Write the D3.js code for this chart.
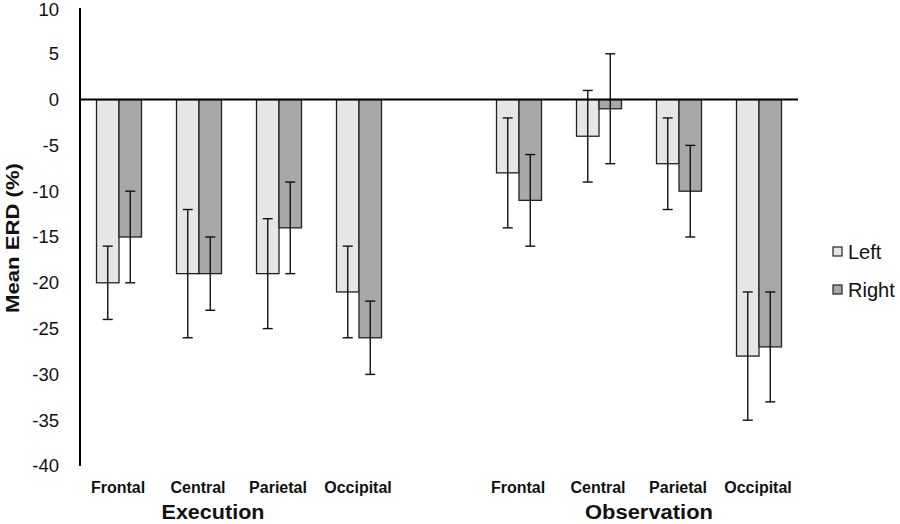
<!DOCTYPE html>
<html>
<head>
<meta charset="utf-8">
<script src="https://cdn.jsdelivr.net/npm/d3@7"></script>
<style>
  body { margin: 0; background: #fff; }
  svg { display: block; font-family: "Liberation Sans", Arial, sans-serif; }
</style>
</head>
<body>
<svg id="chart" width="900" height="524"></svg>
<script>
// ---- data ----
const regions = ["Frontal", "Central", "Parietal", "Occipital"];
const groups = ["Execution", "Observation"];
const series = ["Left", "Right"];
const execLeft = [-20, -19, -19, -21];
const execRight = [-15, -19, -14, -26];
const obsLeft = [-8, -4, -7, -28];
const obsRight = [-11, -1, -10, -27];
const execLeftErr = [4, 7, 6, 5];
const execRightErr = [5, 4, 5, 4];
const obsLeftErr = [6, 5, 5, 7];
const obsRightErr = [5, 6, 5, 6];
const yTicks = [10, 5, 0, -5, -10, -15, -20, -25, -30, -35, -40];

// ---- build rows ----
const slots = [];
const rows = [];
groups.forEach((g, gi) => {
  const L = gi === 0 ? execLeft : obsLeft;
  const R = gi === 0 ? execRight : obsRight;
  const LE = gi === 0 ? execLeftErr : obsLeftErr;
  const RE = gi === 0 ? execRightErr : obsRightErr;
  regions.forEach((r, ri) => {
    const key = g + "|" + r;
    slots.push(key);
    rows.push({ key, group: g, region: r, vals: [
      { s: "Left", v: L[ri], e: LE[ri] },
      { s: "Right", v: R[ri], e: RE[ri] }
    ]});
  });
  if (gi === 0) slots.push("gap");
});

const svg = d3.select("#chart");
const colors = { Left: "#e6e6e6", Right: "#a8a8a8" };

const y = d3.scaleLinear().domain([-40, 10]).range([466, 8]);
const x = d3.scaleBand().domain(slots).range([79, 799]).paddingInner(0.4375).paddingOuter(0.21875);
const xs = d3.scaleBand().domain(series).range([0, x.bandwidth()]);

// y axis
const yAxis = d3.axisLeft(y).tickValues(yTicks).tickSize(0).tickPadding(21).tickFormat(d => String(d));
const ga = svg.append("g").attr("transform", "translate(80,0)").call(yAxis);
ga.select(".domain").remove();
ga.selectAll("text").attr("font-size", 18.5).attr("fill", "#111").attr("font-family", "Liberation Sans, Arial, sans-serif");
ga.selectAll(".tick").filter(d => d === 10).select("text").attr("dy", "0.42em");

// bars
const gRow = svg.selectAll("g.row").data(rows).join("g")
  .attr("class", "row")
  .attr("transform", d => `translate(${x(d.key)},0)`);

gRow.selectAll("rect").data(d => d.vals).join("rect")
  .attr("x", d => xs(d.s))
  .attr("width", xs.bandwidth())
  .attr("y", d => Math.min(y(d.v), y(0)))
  .attr("height", d => Math.abs(y(d.v) - y(0)))
  .attr("fill", d => colors[d.s])
  .attr("stroke", "#222")
  .attr("stroke-width", 1.3);

// error bars
const eb = gRow.selectAll("g.err").data(d => d.vals).join("g").attr("class", "err");
eb.append("line")
  .attr("x1", d => xs(d.s) + xs.bandwidth() / 2)
  .attr("x2", d => xs(d.s) + xs.bandwidth() / 2)
  .attr("y1", d => y(d.v + d.e)).attr("y2", d => y(d.v - d.e))
  .attr("stroke", "#111").attr("stroke-width", 1.4);
[1, -1].forEach(sign => {
  eb.append("line")
    .attr("x1", d => xs(d.s) + xs.bandwidth() / 2 - 5)
    .attr("x2", d => xs(d.s) + xs.bandwidth() / 2 + 5)
    .attr("y1", d => y(d.v + sign * d.e)).attr("y2", d => y(d.v + sign * d.e))
    .attr("stroke", "#111").attr("stroke-width", 1.4);
});

// axis lines
svg.append("line").attr("x1", 80).attr("x2", 80).attr("y1", y(10)).attr("y2", y(-40))
  .attr("stroke", "#000").attr("stroke-width", 2);
svg.append("line").attr("x1", 80).attr("x2", 798).attr("y1", y(0)).attr("y2", y(0))
  .attr("stroke", "#000").attr("stroke-width", 2);

// category labels
svg.selectAll("text.cat").data(rows).join("text")
  .attr("class", "cat")
  .attr("x", d => x(d.key) + x.bandwidth() / 2 - 1)
  .attr("y", 493)
  .attr("text-anchor", "middle")
  .attr("font-size", 16).attr("font-weight", "bold").attr("fill", "#111")
  .text(d => d.region);

// group labels
const groupPos = [213, 649];
const groupLen = [103, 128];
svg.selectAll("text.grp").data(groups).join("text")
  .attr("class", "grp")
  .attr("x", (d, i) => groupPos[i])
  .attr("y", 519)
  .attr("text-anchor", "middle")
  .attr("font-size", 19.5).attr("font-weight", "bold").attr("fill", "#111")
  .attr("textLength", (d, i) => groupLen[i])
  .attr("lengthAdjust", "spacingAndGlyphs")
  .text(d => d);

// y title
svg.append("text")
  .attr("transform", "translate(19,238) rotate(-90)")
  .attr("text-anchor", "middle")
  .attr("font-size", 19).attr("font-weight", "bold").attr("fill", "#111")
  .attr("textLength", 150).attr("lengthAdjust", "spacingAndGlyphs")
  .text("Mean ERD (%)");

// legend
const lg = svg.selectAll("g.leg").data(series).join("g")
  .attr("class", "leg")
  .attr("transform", (d, i) => `translate(833,${247 + i * 38})`);
lg.append("rect").attr("width", 9).attr("height", 9)
  .attr("fill", d => colors[d]).attr("stroke", "#222").attr("stroke-width", 1.2);
lg.append("text").attr("x", 15).attr("y", 11.5)
  .attr("font-size", 20).attr("fill", "#111").text(d => d);
</script>
</body>
</html>
